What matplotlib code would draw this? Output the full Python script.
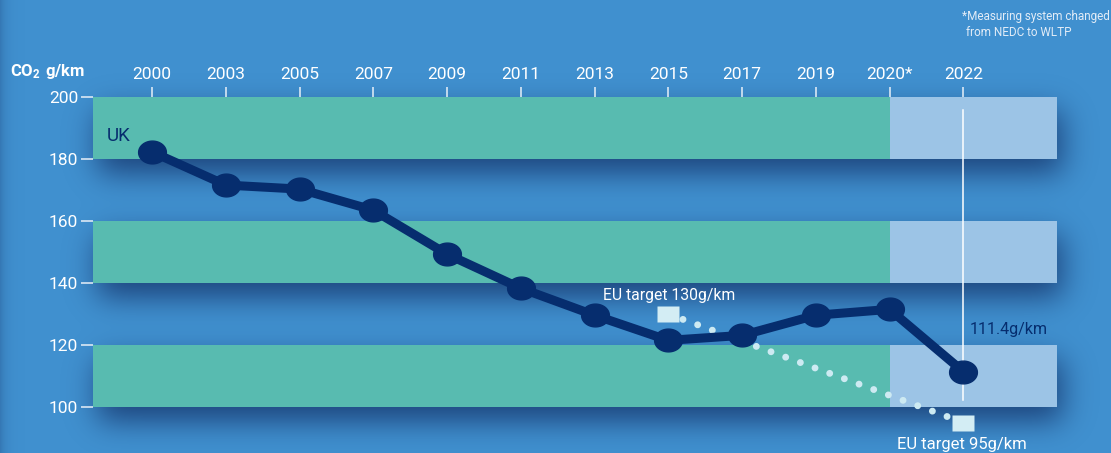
import numpy as np
import matplotlib
matplotlib.use('Agg')
import matplotlib.pyplot as plt
from matplotlib.path import Path
from math import erf

# ---------------- data ----------------
years = ['2000', '2003', '2005', '2007', '2009', '2011', '2013',
         '2015', '2017', '2019', '2020*', '2022']
uk_co2 = [182.3, 171.6, 170.3, 163.5, 149.3, 138.3, 129.6,
          121.5, 123.1, 129.6, 131.5, 111.4]
target_years = ['2015', '2022']
target_values = [130, 95]
target_labels = ['EU target 130g/km', 'EU target 95g/km']
band_ranges = [(180, 200), (140, 160), (100, 120)]
y_ticks = [100, 120, 140, 160, 180, 200]
split_year = '2020*'

# ---------------- style ----------------
BG = '#4090cf'
GREEN = '#58bbb0'
LIGHT = '#9cc4e6'
NAVY = '#062d6e'
DOT = '#cdeaf2'
BOX = '#d3edf4'
TICKC = '#e8f0f8'

plt.rcParams['font.family'] = ['Roboto', 'DejaVu Sans']
plt.rcParams['mathtext.fontset'] = 'custom'
plt.rcParams['mathtext.rm'] = 'Roboto'
plt.rcParams['mathtext.bf'] = 'Roboto:bold'

W, H = 1111, 453
fig = plt.figure(figsize=(W / 100, H / 100), dpi=100, facecolor=BG)
ax = fig.add_axes([93 / W, 46 / H, 964 / W, 310 / H])
ax.set_facecolor('none')
x = np.arange(len(years))
xmin, xmax = -0.8, 12.27
ax.set_xlim(xmin, xmax)
ax.set_ylim(100, 200)
for s in ax.spines.values():
    s.set_visible(False)

# ---------------- soft shadows under the bands ----------------
verf = np.vectorize(erf)


def Phi(z):
    return 0.5 * (1 + verf(z / np.sqrt(2)))


px = np.arange(W) + 0.5
py = np.arange(H) + 0.5  # bottom-up display coords
alpha = np.zeros((H, W))
sig, dy, dxs, a0 = 15.0, 14.0, 5.0, 0.75
for lo, hi in band_ranges:
    (x0, y0), (x1, y1) = ax.transData.transform([(xmin, lo), (xmax, hi)])
    x0 += dxs; x1 += dxs; y0 -= dy; y1 -= dy
    sx = Phi((px - x0) / sig) - Phi((px - x1) / sig)
    sy = Phi((py - y0) / sig) - Phi((py - y1) / sig)
    a = a0 * np.outer(sy, sx)
    alpha = 1 - (1 - alpha) * (1 - a)
# slight darkening at the far left edge of the picture
edge = 0.25 * np.exp(-px / 6.0)
alpha = 1 - (1 - alpha) * (1 - edge[None, :])
img = np.zeros((H, W, 4))
img[..., 0] = 16 / 255
img[..., 1] = 42 / 255
img[..., 2] = 96 / 255
img[..., 3] = alpha
fig.figimage(img, 0, 0, origin='lower', zorder=-1)

# ---------------- bands ----------------
xs = years.index(split_year)
for lo, hi in band_ranges:
    ax.fill_between([xmin, xs], lo, hi, color=GREEN, lw=0, zorder=1)
    ax.fill_between([xs, xmax], lo, hi, color=LIGHT, lw=0, zorder=1)

# ---------------- ticks ----------------
ax.xaxis.tick_top()
ax.set_xticks(x, years)
ax.set_yticks(y_ticks)
ax.tick_params(axis='x', colors=TICKC, length=7, width=1.1, pad=3.5,
               labelsize=12.5, labelcolor='white')
ax.tick_params(axis='y', colors=TICKC, length=8.6, width=1.1, pad=2,
               labelsize=12.5, labelcolor='white')

# ---------------- EU target dotted path ----------------
tx = [years.index(y) for y in target_years]
ax.plot(tx, target_values, color=DOT, lw=5, linestyle=(0, (0.001, 2.25)),
        dash_capstyle='round', zorder=3, clip_on=False)
rect = Path([(-1, -0.7), (1, -0.7), (1, 0.7), (-1, 0.7), (-1, -0.7)], closed=True)
ax.plot(tx, target_values, linestyle='none', marker=rect, ms=16.5,
        mfc=BOX, mec='none', zorder=4, clip_on=False)

# white callout line at the last year
ax.plot([x[-1], x[-1]], [102.4, 195.8], color='white', lw=1.1, zorder=4)

# ---------------- UK line ----------------
t = np.linspace(0, 2 * np.pi, 80)
ell = Path(np.c_[np.cos(t), 0.82 * np.sin(t)], closed=True)
ax.plot(x, uk_co2, color=NAVY, lw=6.5, marker=ell, ms=20, mfc=NAVY,
        mec=NAVY, solid_joinstyle='round', zorder=5, clip_on=False)

# ---------------- texts ----------------
ax.text(-0.61, 185.8, 'UK', color=NAVY, fontsize=13.5, va='baseline', ha='left', zorder=6)
ax.text(11.09, 123.7, f'{uk_co2[-1]}g/km', color=NAVY, fontsize=11.6,
        va='baseline', ha='left', zorder=6)
ax.text(6.117, 134.4, target_labels[0], color='white', fontsize=11.3,
        va='baseline', ha='left', zorder=6)
ax.text(10.10, 86.6, target_labels[1], color='white', fontsize=12,
        va='baseline', ha='left', zorder=6, clip_on=False)

fig.text(10 / W, 1 - 76 / H, r'$\mathbf{CO_2\ g/km}$', color='white', fontsize=12,
         va='baseline', ha='left')
fig.text(962 / W, 1 - 20 / H, '*Measuring system changed', color='#e2ecf7',
         fontsize=8.5, va='baseline', ha='left')
fig.text(966 / W, 1 - 36 / H, 'from NEDC to WLTP', color='#e2ecf7',
         fontsize=8.5, va='baseline', ha='left')

fig.savefig('out.png', dpi=100, facecolor=BG)
